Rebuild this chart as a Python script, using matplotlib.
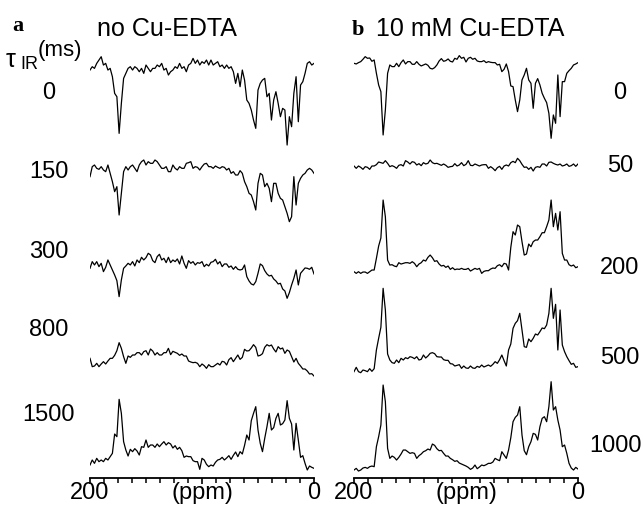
import matplotlib
matplotlib.use("Agg")
import matplotlib.pyplot as plt
import numpy as np
from matplotlib.ticker import MultipleLocator

plt.rcParams['font.family'] = ['Liberation Sans', 'DejaVu Sans']

# chemical shift axis (ppm), one point every 2 ppm
ppm = np.linspace(200, 0, 101)

# panel a: no Cu-EDTA, recovery delays (ms)
tau_a = ["0", "150", "300", "800", "1500"]
a_0 = [-10, 0, -5, 10, 20, 30, 5, 10, -10, -5,
       -30, -80, -90, -200, -110, -35, -20, -5, 0, -10,
       0, -5, -15, -5, -20, 5, -5, -15, -5, -5,
       5, 0, 10, -10, -5, -25, -15, -10, 0, -5,
       10, -5, 0, -15, 5, 10, 25, 10, 20, 5,
       15, 10, 20, 5, 20, 5, 10, 15, 0, 5,
       -5, 5, -5, 0, -15, -50, -20, -60, -10, -40,
       -100, -110, -130, -160, -185, -70, -50, -40, -35, -90,
       -80, -160, -100, -75, -110, -150, -125, -130, -235, -150,
       -180, -80, -30, -165, -55, -45, -20, 10, 15, 5,
       10]
a_150 = [-20, 10, 15, 5, 2, 10, 0, -5, 15, -10,
         -35, -65, -50, -135, -70, -5, 10, 0, 10, 15,
         5, -5, 15, 25, 30, 15, 25, 20, 20, 30,
         25, 15, 5, 5, 10, -5, -5, 15, 5, 0,
         10, 5, 5, 20, 22, 25, 5, 10, 8, 0,
         10, 18, 20, 10, 10, 5, 12, 8, 5, 10,
         8, 0, 5, -10, -5, -15, -15, -2, -10, -35,
         -50, -70, -75, -95, -120, -40, -10, -15, -50, -40,
         -55, -95, -40, -40, -70, -85, -90, -110, -130, -155,
         -140, -20, -105, -40, -25, -15, -10, 0, 5, 0,
         -10]
a_300 = [-15, 5, -5, 5, -10, 0, -25, -12, 10, -5,
         -20, -35, -52, -100, -50, -15, -8, 0, -5, 5,
         -8, 10, 2, 18, 10, 17, 30, 25, 8, 2,
         20, 27, 10, 15, 2, 18, 2, 10, 5, 13,
         -2, 22, 0, -15, 8, 0, 5, -5, 2, 0,
         5, -10, -3, -8, 3, 5, 12, -2, 5, -10,
         -2, -2, -12, -8, -18, -10, -18, -20, -18, -5,
         -40, -53, -62, -65, -55, -30, -2, -7, -22, -32,
         -38, -36, -47, -53, -62, -60, -77, -83, -105, -88,
         -65, -45, -20, -65, -30, -22, -14, -15, -18, -12,
         -32]
a_800 = [5, -20, -18, -10, -20, -12, -5, -12, -3, 5,
         5, 14, 28, 52, 35, 10, -10, 12, 8, 15,
         15, 22, 22, 15, 25, 28, 15, 33, 27, 15,
         22, 15, 15, 22, 22, 35, 16, 26, 23, 20,
         14, 18, 12, 12, -3, -6, -8, -7, -10, -20,
         -12, -17, -25, -14, -20, -20, -15, -10, -15, -4,
         -6, -15, 1, 7, -5, 5, 15, 2, 8, 32,
         27, 28, 36, 46, 38, 12, 14, 19, 38, 46,
         42, 45, 33, 24, 40, 33, 36, 20, 30, 26,
         10, -6, 5, -10, -18, -27, -27, -33, -42, -41,
         -48]
a_1500 = [-15, 0, -10, 5, -5, 0, -5, 5, 0, 10,
          20, 78, 70, 182, 140, 55, 30, 12, 32, 25,
          34, 27, 15, 40, 38, 60, 38, 45, 45, 38,
          48, 40, 48, 55, 45, 52, 48, 36, 43, 32,
          38, 28, 8, 12, 10, 10, -2, -5, -5, -28,
          5, 0, -13, -20, -15, -18, -7, 0, 2, 8,
          0, 6, 13, 2, 14, 24, 10, 25, 18, 44,
          75, 60, 118, 140, 160, 90, 50, 25, 65, 100,
          140, 90, 97, 125, 140, 105, 109, 120, 178, 125,
          108, 30, 110, 60, 8, 13, -10, -30, -18, -22,
          -25]

# panel b: 10 mM Cu-EDTA
tau_b = ["0", "50", "200", "500", "1000"]
b_0 = [0, -2, 2, 5, 12, 20, 15, 16, 6, 10,
       -30, -65, -85, -215, -140, -30, -5, -10, -10, 0,
       -10, 2, 10, -2, 5, 5, -3, -3, 5, -3,
       -8, -5, -2, -6, -15, -17, -13, -5, 7, 14,
       6, 8, 13, 6, 4, 15, 12, 23, 15, 18,
       4, 15, 18, 12, 15, 7, 5, 5, 8, 2,
       5, 3, 2, 2, -5, -3, -25, -18, -2, -25,
       -68, -70, -110, -145, -110, -50, -35, -15, -50, -60,
       -135, -60, -46, -65, -90, -105, -118, -150, -225, -155,
       -180, -35, -160, -55, -55, -30, -22, -15, -5, -2,
       2]
b_50 = [-3, -10, -3, -7, -13, -5, -7, -13, -3, -3,
        1, 9, 7, 5, 13, 5, -5, -2, -5, -10,
        -1, 1, -3, 13, 9, 3, 10, 8, 0, 4,
        -2, 7, 3, 5, 15, 7, 4, 5, 2, -1,
        3, -1, -7, -5, -4, 4, -3, 0, 7, -2,
        2, 13, -1, -2, 3, 0, -3, 0, 1, 1,
        -10, -5, -10, -17, -8, -4, -13, -3, 0, -3,
        7, 11, 7, 20, 13, 2, -7, -6, -13, -7,
        -18, -7, -5, -7, 3, 3, -3, 8, 9, 5,
        2, 0, 3, -3, -1, 3, -4, -2, 3, -4,
        3]
b_200 = [0, -5, 0, -5, -1, -1, -5, 0, 5, 5,
         40, 77, 101, 215, 165, 35, 20, 21, 17, 15,
         27, 23, 25, 27, 27, 25, 30, 25, 15, 23,
         27, 35, 32, 43, 50, 42, 31, 33, 23, 17,
         19, 13, 17, 7, 12, 6, 8, 7, 10, 7,
         7, 10, 2, 6, 10, 7, 10, -5, 1, 3,
         3, 8, 11, 10, 18, 21, 15, 25, 23, 5,
         73, 120, 110, 140, 135, 90, 50, 53, 83, 75,
         90, 95, 95, 105, 117, 117, 135, 155, 215, 135,
         175, 125, 180, 55, 35, 35, 21, 17, 20, 12,
         15]
b_500 = [-5, 8, -5, -8, 0, -2, -5, 4, -4, 4,
         60, 95, 128, 245, 180, 48, 30, 22, 20, 30,
         22, 35, 30, 37, 34, 40, 38, 34, 40, 30,
         32, 45, 36, 42, 50, 52, 49, 40, 39, 39,
         31, 29, 29, 19, 18, 12, 14, 16, 5, 12,
         6, 5, 12, 6, 5, 11, 8, 15, 9, 12,
         15, 11, 17, 25, 20, 31, 45, 28, 12, 60,
         78, 125, 140, 148, 170, 120, 70, 68, 93, 85,
         95, 108, 105, 115, 126, 124, 135, 170, 245, 155,
         197, 60, 180, 75, 55, 40, 28, 17, 20, 8,
         10]
b_1000 = [-10, -5, -13, -10, -4, -2, -5, 0, 2, 0,
          60, 90, 125, 245, 195, 55, 25, 32, 28, 20,
          28, 38, 50, 50, 45, 40, 42, 40, 25, 33,
          38, 45, 48, 53, 50, 68, 64, 54, 48, 49,
          40, 32, 32, 25, 21, 16, 18, 11, 8, 5,
          2, -2, -8, -4, 5, -6, -1, 5, 3, 6,
          10, 10, 14, 25, 21, 18, 45, 35, 25, 50,
          87, 135, 148, 155, 180, 95, 48, 36, 60, 75,
          100, 97, 80, 120, 145, 150, 135, 180, 255, 170,
          180, 140, 110, 60, 65, 40, 10, -4, -10, -2,
          -7]

W, H = 643, 507
fig = plt.figure(figsize=(W / 100, H / 100), dpi=100)

# layout in pixels
base_a = [66.7, 170, 263.3, 360, 460]
base_b = [63.3, 165, 271.7, 370, 466.7]
scale = 1 / 3.0
axis_y = 478
fs = 17


def px(x, y):
    return x / W, 1 - y / H


def panel(x0, traces, bases):
    ax = fig.add_axes([x0 / W, 0, 224 / W, 1])
    ax.set_xlim(200, 0)
    ax.set_ylim(-H, 0)
    for tr, b in zip(traces, bases):
        ax.plot(ppm, -b + np.array(tr) * scale, color='black', lw=0.9)
    for s in ['top', 'left', 'right']:
        ax.spines[s].set_visible(False)
    ax.spines['bottom'].set_position(('data', -axis_y))
    ax.spines['bottom'].set_linewidth(1.3)
    ax.set_yticks([])
    ax.set_xticks([200, 100, 0])
    ax.set_xticklabels(['200', '(ppm)', '0'])
    ax.xaxis.set_minor_locator(MultipleLocator(12.5))
    ax.tick_params(axis='x', which='major', direction='out', length=4,
                   width=1.2, labelsize=fs, pad=-1)
    ax.tick_params(axis='x', which='minor', direction='out', length=3.5, width=1.1)
    ax.patch.set_visible(False)
    return ax


panel(90, [a_0, a_150, a_300, a_800, a_1500], base_a)
panel(354, [b_0, b_50, b_200, b_500, b_1000], base_b)

# panel letters and titles
fig.text(*px(12, 31), 'a', family='Liberation Serif', weight='bold', fontsize=16)
fig.text(*px(97, 36), 'no Cu-EDTA', fontsize=18)
fig.text(*px(352, 35), 'b', family='Liberation Serif', weight='bold', fontsize=16)
fig.text(*px(376, 36), '10 mM Cu-EDTA', fontsize=18)
fig.text(*px(6, 67), '\u03c4', fontsize=18)
fig.text(*px(20, 69), 'IR', fontsize=13)
fig.text(*px(38, 56), '(ms)', fontsize=16)

# delay labels
ya = [93, 172, 252, 330, 415]
yb = [93, 166, 268, 358, 446]
for t, y in zip(tau_a, ya):
    fig.text(*px(49, y), t, fontsize=fs, ha='center', va='center')
for t, y in zip(tau_b, yb):
    if len(t) > 3:
        fig.text(*px(642, y), t, fontsize=fs, ha='right', va='center')
    else:
        fig.text(*px(620, y), t, fontsize=fs, ha='center', va='center')

fig.savefig('out.png', dpi=100)
